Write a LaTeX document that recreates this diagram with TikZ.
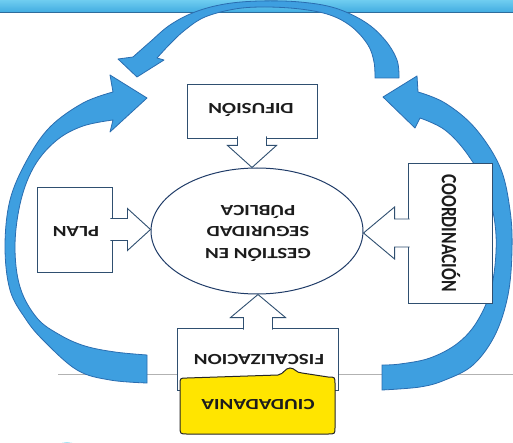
\documentclass[tikz,border=0pt]{standalone}
\usepackage{fontspec}
\newfontfamily\cb[FakeStretch=1.35]{Carlito}
\newfontfamily\cbn{Carlito}
\usetikzlibrary{shapes.geometric,calc}
\definecolor{arrowblue}{HTML}{3E9FE0}
\definecolor{arrowedge}{HTML}{2A6DB0}
\definecolor{bandtop}{HTML}{6FCDF0}
\definecolor{bandbot}{HTML}{3FAAE0}
\definecolor{bandedge}{HTML}{2E6C9C}
\definecolor{boxedge}{HTML}{2F4F70}
\definecolor{elledge}{HTML}{203C68}
\definecolor{yel}{HTML}{FFE500}
\definecolor{txt}{HTML}{1C1C1C}
\definecolor{ring}{HTML}{2EC2E6}
\begin{document}
\begin{tikzpicture}[x=1pt,y=-1pt,
  bigarrow/.style={fill=arrowblue,draw=arrowedge,line width=0.8pt,line join=round},
  box/.style={rectangle,draw=boxedge,fill=white,line width=0.9pt,inner sep=0pt},
  callout/.style={fill=white,draw=boxedge,line width=0.9pt,line join=miter},
  lbl/.style={font=\cb\bfseries\fontsize{15.5}{21.5}\selectfont,text=txt,align=center,rotate=180,inner sep=0pt}]
\clip (0,0) rectangle (513,443);
\fill[white] (0,0) rectangle (513,443);
% top band
\shade[top color=bandtop,bottom color=bandbot] (0,0) rectangle (513,13);
\draw[bandedge,line width=1pt] (0,13) -- (513,13);
% faint horizontal rule
\draw[black!30,line width=0.7pt] (58,374) -- (513,374);
% left big arrow
\path[bigarrow] plot[smooth,tension=0.6] coordinates {(147,383) (110,380) (77,370) (43,340) (25,318) (10,290) (5,247) (10,200) (27,160) (50,127) (83,103) (113,92)}
  -- (110,75) -- (147,98) -- (110,132) --
  plot[smooth,tension=0.6] coordinates {(113,120) (83,126) (57,140) (35,165) (21,200) (15,245) (20,287) (37,318) (60,335) (85,346) (115,352) (147,355)} -- cycle;
% right big arrow
\path[bigarrow] plot[smooth,tension=0.6] coordinates {(382,390) (420,387) (445,380) (473,365) (495,335) (508,295) (512,250) (510,210) (500,167) (475,128) (445,103) (418,92)}
  -- (417,76) -- (383,97) -- (415,128) --
  plot[smooth,tension=0.6] coordinates {(420,118) (445,130) (468,155) (487,190) (496,235) (492,285) (478,320) (458,343) (430,358) (400,364) (382,365)} -- cycle;
% top big arrow
\path[bigarrow] plot[smooth,tension=0.6] coordinates {(399,78) (397,60) (385,40) (365,22) (335,8) (300,2) (260,1) (225,4) (195,12) (170,25) (150,42) (133,57)}
  -- (118,59) -- (137,77) -- (164,60) --
  plot[smooth,tension=0.6] coordinates {(157,58) (170,44) (185,30) (205,17) (235,9) (265,7) (300,9) (330,15) (352,27) (368,45) (374,62) (375,78)} -- cycle;
% ellipse
\node[ellipse,draw=elledge,fill=white,line width=1pt,minimum width=212pt,minimum height=126pt,inner sep=0pt] (ell) at (257,231) {};
\node[lbl] (elltext) at (258,233) {GESTIÓN EN\\SEGURIDAD\\PÚBLICA};
% boxes
\node[box,minimum width=130pt,minimum height=54pt] (dif) at (252,111) {};
\node[box,minimum width=75pt,minimum height=85pt] (plan) at (74.5,229.5) {};
\node[box,minimum width=84pt,minimum height=140pt] (co) at (450,233) {};
\node[box,minimum width=161pt,minimum height=62pt] (fis) at (258,359) {};
% callout arrows
\path[callout] ($(dif.south)+(-14.5,-2)$) -- ++(0,9) -- ++(-10,0) -- (dif.south |- ell.north)
  -- ($(dif.south)+(24.5,7)$) -- ($(dif.south)+(14.5,7)$) -- ($(dif.south)+(14.5,-2)$);
\path[callout] ($(fis.north)+(-14.5,2)$) -- ++(0,-12) -- ++(-13,0) -- (fis.north |- ell.south)
  -- ($(fis.north)+(27.5,-10)$) -- ($(fis.north)+(14.5,-10)$) -- ($(fis.north)+(14.5,2)$);
\path[callout] ($(plan.east)+(-2,-11)$) -- ++(17,0) -- ++(0,-10) -- (plan.east -| ell.west)
  -- ($(plan.east)+(15,21)$) -- ($(plan.east)+(15,11)$) -- ($(plan.east)+(-2,11)$);
\path[callout] ($(co.west)+(2,-14)$) -- ++(-15,0) -- ++(0,-12) -- (co.west -| ell.east)
  -- ($(co.west)+(-13,26)$) -- ($(co.west)+(-13,14)$) -- ($(co.west)+(2,14)$);
% yellow ciudadania shape
\path[fill=yel,draw=black!85,line width=1pt]
  (180,426) -- (180,385) .. controls (180,378) .. (187,378)
  -- (278,375) .. controls (284,374) and (285,368) .. (290,368)
  .. controls (295,368) and (296,373) .. (302,373)
  -- (328,377) .. controls (335,377) .. (335,384)
  -- (335,427) .. controls (335,434) .. (328,434)
  -- (187,434) .. controls (180,434) .. (180,426) -- cycle;
\node[inner sep=0pt] (ciu) at (258,405) {};
% texts
\node[lbl] (diftext) at (251,110) {DIFUSIÓN};
\node[lbl] (plantext) at (76,232) {PLAN};
\node[lbl] (fistext) at (259,360) {FISCALIZACION};
\node[lbl] (ciutext) at (ciu) {CIUDADANIA};
\node[font=\cbn\bfseries\fontsize{17.5}{20}\selectfont,text=txt,rotate=-90,inner sep=0pt] (cotext) at (451,233) {\scalebox{1}[1.25]{COORDINACIÓN}};
% partial ring at bottom left
\path[fill=ring!35,draw=ring,line width=3pt] (67,469) circle[radius=25];
\end{tikzpicture}
\end{document}
